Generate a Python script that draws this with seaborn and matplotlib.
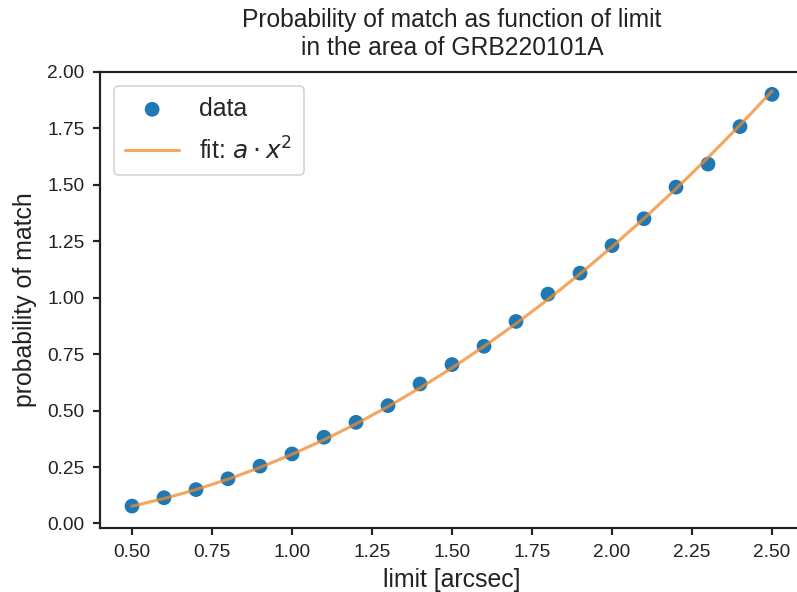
import numpy as np
import pandas as pd
import seaborn as sns
import matplotlib
matplotlib.use("Agg")
import matplotlib.pyplot as plt

limits = [0.5, 0.6, 0.7, 0.8, 0.9, 1.0, 1.1, 1.2, 1.3, 1.4, 1.5,
          1.6, 1.7, 1.8, 1.9, 2.0, 2.1, 2.2, 2.3, 2.4, 2.5]
probs = [0.077, 0.114, 0.150, 0.198, 0.254, 0.308, 0.382, 0.448, 0.522, 0.618, 0.704,
         0.785, 0.895, 1.016, 1.109, 1.231, 1.350, 1.490, 1.592, 1.758, 1.901]
xticks = [0.50, 0.75, 1.00, 1.25, 1.50, 1.75, 2.00, 2.25, 2.50]
yticks = [0.00, 0.25, 0.50, 0.75, 1.00, 1.25, 1.50, 1.75, 2.00]

sns.set_theme(style="ticks")
plt.rcParams['font.family'] = ['Liberation Sans', 'DejaVu Sans']

x = np.array(limits)
y = np.array(probs)
a = np.sum(x**2 * y) / np.sum(x**4)
df = pd.DataFrame({"limit": x, "prob": y, "fit": a * x**2})

W, H = 797, 592
fig = plt.figure(figsize=(W/125, H/125), dpi=125)
ax = fig.add_axes([100/W, 1 - 528/H, (804-100)/W, (528-72)/H])

sns.scatterplot(data=df, x="limit", y="prob", ax=ax, s=72, color="#1f77b4",
                edgecolor="none", label="data", zorder=2)
sns.lineplot(data=df, x="limit", y="fit", ax=ax, color="#f08a2c", alpha=0.75,
             linewidth=1.8, label=r"fit: $a \cdot x^2$", zorder=3)

ax.set_xlim(0.4, 2.6)
ax.set_ylim(-0.02, 2.0)
ax.set_xticks(xticks)
ax.set_yticks(yticks)
ax.set_xticklabels([f"{t:.2f}" for t in xticks])
ax.set_yticklabels([f"{t:.2f}" for t in yticks])
ax.tick_params(labelsize=11, length=4, pad=5, color="#222222", labelcolor="#222222")
for s in ax.spines.values():
    s.set_color("#222222")
ax.set_xlabel("limit [arcsec]", fontsize=14.3, color="#222222", labelpad=4)
ax.set_ylabel("probability of match", fontsize=14.3, color="#222222", labelpad=6)
ax.set_title("Probability of match as function of limit\nin the area of GRB220101A",
             fontsize=14.2, color="#222222", pad=10)
ax.legend(loc="upper left", fontsize=14.3, handlelength=2.2, borderaxespad=0.55,
          labelspacing=0.65, borderpad=0.45)

fig.savefig("out.png", dpi=125)
